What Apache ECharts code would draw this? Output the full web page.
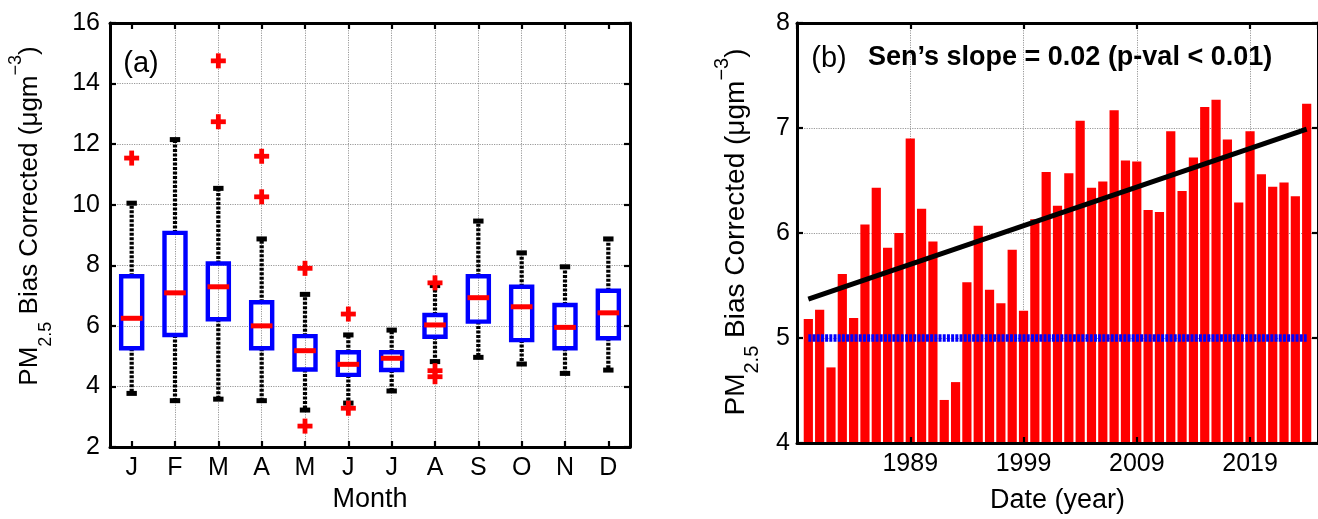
<!DOCTYPE html>
<html>
<head>
<meta charset="utf-8">
<script src="https://cdn.jsdelivr.net/npm/echarts@6/dist/echarts.min.js"></script>
<style>
  html, body { margin: 0; padding: 0; background: #fff; }
  #chart { width: 1318px; height: 519px; }
</style>
</head>
<body>
<div id="chart"></div>
<script>
// ---- (a) monthly distribution ----
const months = ['J', 'F', 'M', 'A', 'M', 'J', 'J', 'A', 'S', 'O', 'N', 'D'];
const whiskerLow  = [3.77, 3.53, 3.58, 3.53, 3.22, 3.45, 3.85, 4.82, 4.96, 4.74, 4.43, 4.54];
const quart1      = [5.26, 5.70, 6.22, 5.26, 4.56, 4.38, 4.54, 5.64, 6.14, 5.53, 5.26, 5.59];
const medians     = [6.25, 7.09, 7.29, 6.00, 5.18, 4.73, 4.93, 6.03, 6.93, 6.63, 5.95, 6.43];
const quart3      = [7.64, 9.07, 8.06, 6.78, 5.66, 5.13, 5.13, 6.36, 7.64, 7.29, 6.69, 7.16];
const whiskerHigh = [10.05, 12.15, 10.54, 8.87, 7.04, 5.70, 5.86, 7.33, 9.46, 8.41, 7.95, 8.87];
const outlierMonth = [0, 2, 2, 3, 3, 4, 4, 5, 5, 7, 7, 7];
const outlierValue = [11.54, 14.75, 12.74, 11.60, 10.26, 7.90, 2.69, 6.39, 3.28, 7.42, 4.52, 4.32];

// ---- (b) annual means ----
const years = [];
for (let y = 1980; y <= 2024; y++) years.push(y);
const annualMean = [
  5.18, 5.27, 4.72, 5.61, 5.19, 6.08, 6.43, 5.86, 6.00, 6.90,
  6.23, 5.92, 4.41, 4.58, 5.53, 6.07, 5.46, 5.33, 5.84, 5.26,
  6.13, 6.58, 6.26, 6.57, 7.07, 6.43, 6.49, 7.17, 6.69, 6.68,
  6.22, 6.20, 6.97, 6.40, 6.72, 7.20, 7.27, 6.89, 6.29, 6.97,
  6.56, 6.44, 6.48, 6.35, 7.23
];
const trendYears = [1980, 2024];
const trendValues = [5.37, 6.99];
const guideYears = [1980, 2024];
const guideValues = [5, 5];
const yearTicks = [1989, 1999, 2009, 2019];
const yearOrigin = 1979;   // left edge of the time axis

const FF = 'Liberation Sans, Arial, Helvetica, sans-serif';
const BLACK = '#000';
const GRID_LINE = { show: true, showMinLine: false, showMaxLine: false,
  lineStyle: { color: '#999999', width: 1, type: [1.2, 1.2] } };
const tickIn = { show: true, inside: true, length: 6, lineStyle: { color: BLACK, width: 2.2 } };
const axLine = { show: true, onZero: false, lineStyle: { color: BLACK, width: 3 } };
const tickFont = { fontSize: 25, fontFamily: FF, color: BLACK };

const boxData = months.map((m, i) => [i, whiskerLow[i], quart1[i], medians[i], quart3[i], whiskerHigh[i]]);
const outlierData = outlierMonth.map((m, i) => [m, outlierValue[i]]);
const barData = years.map((y, i) => [y - yearOrigin, annualMean[i]]);
const trendData = trendYears.map((y, i) => [y - yearOrigin, trendValues[i]]);
const guideData = guideYears.map((y, i) => [y - yearOrigin, guideValues[i]]);

const yTitle = '{m|PM}{s|2.5}{m| Bias Corrected (μgm}{p|−3}{m|)}';
function yTitleRich(size) {
  const small = Math.round(size * 0.7);
  return {
    m: { fontSize: size, fontFamily: FF, fill: BLACK, verticalAlign: 'middle' },
    s: { fontSize: small, fontFamily: FF, fill: BLACK, verticalAlign: 'middle', padding: [32, 0, 0, 0] },
    p: { fontSize: small, fontFamily: FF, fill: BLACK, verticalAlign: 'middle', padding: [0, 0, 27, 0] }
  };
}

const chart = echarts.init(document.getElementById('chart'), null, { renderer: 'canvas' });

chart.setOption({
  animation: false,
  backgroundColor: '#fff',
  grid: [
    { left: 110, top: 23, width: 520, height: 424 },
    { left: 797, top: 23, width: 529, height: 424 }
  ],
  xAxis: [
    { type: 'category', gridIndex: 0, position: 'bottom', data: months, boundaryGap: true,
      axisLine: axLine, axisTick: Object.assign({ alignWithLabel: true }, tickIn),
      axisLabel: Object.assign({ margin: 9, interval: 0 }, tickFont),
      splitLine: Object.assign({ alignWithLabel: true, interval: 0 }, GRID_LINE),
      name: 'Month', nameLocation: 'middle', nameGap: 33,
      nameTextStyle: { fontSize: 27, fontFamily: FF, color: BLACK } },
    { type: 'category', gridIndex: 0, position: 'top', data: months, boundaryGap: true,
      axisLine: axLine, axisTick: Object.assign({ alignWithLabel: true, interval: 0 }, tickIn),
      axisLabel: { show: false }, splitLine: { show: false } },
    { type: 'value', gridIndex: 1, position: 'bottom', min: 0, max: 46, interval: 10, z: 5,
      axisLine: axLine, axisTick: tickIn,
      axisLabel: Object.assign({ margin: 9, showMaxLabel: false, showMinLabel: false,
        formatter: v => (yearTicks.indexOf(v + yearOrigin) >= 0 ? String(v + yearOrigin) : '') }, tickFont),
      splitLine: { show: false },
      name: 'Date (year)', nameLocation: 'middle', nameGap: 44,
      nameTextStyle: { fontSize: 27, fontFamily: FF, color: BLACK } },
    { type: 'value', gridIndex: 1, position: 'top', min: 0, max: 46, interval: 10,
      axisLine: axLine, axisTick: tickIn, axisLabel: { show: false }, splitLine: GRID_LINE }
  ],
  yAxis: [
    { type: 'value', gridIndex: 0, position: 'left', min: 2, max: 16, interval: 2,
      axisLine: axLine, axisTick: tickIn,
      axisLabel: Object.assign({ margin: 10 }, tickFont), splitLine: GRID_LINE },
    { type: 'value', gridIndex: 0, position: 'right', min: 2, max: 16, interval: 2,
      axisLine: axLine, axisTick: tickIn, axisLabel: { show: false }, splitLine: { show: false } },
    { type: 'value', gridIndex: 1, position: 'left', min: 4, max: 8, interval: 1, z: 5,
      axisLine: axLine, axisTick: tickIn,
      axisLabel: Object.assign({ margin: 7 }, tickFont), splitLine: { show: false } },
    { type: 'value', gridIndex: 1, position: 'right', min: 4, max: 8, interval: 1,
      axisLine: axLine, axisTick: tickIn, axisLabel: { show: false }, splitLine: GRID_LINE }
  ],
  series: [
    {
      // box, whiskers and median for each month
      type: 'custom', xAxisIndex: 0, yAxisIndex: 0, z: 3,
      data: boxData,
      encode: { x: 0, y: [1, 2, 3, 4, 5] },
      renderItem: function (params, api) {
        const i = api.value(0);
        const pLo = api.coord([i, api.value(1)]);
        const pQ1 = api.coord([i, api.value(2)]);
        const pMd = api.coord([i, api.value(3)]);
        const pQ3 = api.coord([i, api.value(4)]);
        const pHi = api.coord([i, api.value(5)]);
        const band = api.size([1, 0])[0];
        const x = pMd[0];
        const bw = band * 0.485, mw = band * 0.5, cw = band * 0.24;
        const dash = { stroke: BLACK, lineWidth: 4.2, lineDash: [3, 1.5] };
        const cap = { stroke: BLACK, lineWidth: 5 };
        return {
          type: 'group',
          children: [
            { type: 'line', shape: { x1: x, y1: pQ1[1], x2: x, y2: pLo[1] }, style: dash },
            { type: 'line', shape: { x1: x, y1: pQ3[1], x2: x, y2: pHi[1] }, style: dash },
            { type: 'line', shape: { x1: x - cw / 2, y1: pLo[1], x2: x + cw / 2, y2: pLo[1] }, style: cap },
            { type: 'line', shape: { x1: x - cw / 2, y1: pHi[1], x2: x + cw / 2, y2: pHi[1] }, style: cap },
            { type: 'rect', shape: { x: x - bw / 2, y: pQ3[1], width: bw, height: pQ1[1] - pQ3[1] },
              style: { fill: 'none', stroke: '#0000ff', lineWidth: 4.4 } },
            { type: 'line', shape: { x1: x - mw / 2, y1: pMd[1], x2: x + mw / 2, y2: pMd[1] },
              style: { stroke: '#ff0000', lineWidth: 5 } }
          ]
        };
      }
    },
    {
      // outliers drawn as red plus marks
      type: 'custom', xAxisIndex: 0, yAxisIndex: 0, z: 4,
      data: outlierData,
      encode: { x: 0, y: 1 },
      renderItem: function (params, api) {
        const p = api.coord([api.value(0), api.value(1)]);
        const r = 7.5;
        const st = { stroke: '#ff0000', lineWidth: 4.8 };
        return {
          type: 'group',
          children: [
            { type: 'line', shape: { x1: p[0] - r, y1: p[1], x2: p[0] + r, y2: p[1] }, style: st },
            { type: 'line', shape: { x1: p[0], y1: p[1] - r, x2: p[0], y2: p[1] + r }, style: st }
          ]
        };
      }
    },
    {
      type: 'bar', xAxisIndex: 2, yAxisIndex: 2,
      data: barData, barWidth: 9.2,
      itemStyle: { color: '#ff0000' }
    },
    {
      type: 'line', xAxisIndex: 2, yAxisIndex: 2, z: 3,
      data: guideData, symbol: 'none',
      lineStyle: { color: '#0000ff', width: 7.5, type: [3, 1.2], cap: 'butt' }
    },
    {
      type: 'line', xAxisIndex: 2, yAxisIndex: 2, z: 4,
      data: trendData, symbol: 'none',
      lineStyle: { color: BLACK, width: 5 }
    }
  ],
  graphic: [
    { type: 'text', x: 141, y: 64, z: 10,
      style: { text: '(a)', fontSize: 29, fontFamily: FF, fill: BLACK, align: 'center', verticalAlign: 'middle' } },
    { type: 'text', x: 829, y: 59, z: 10,
      style: { text: '(b)', fontSize: 29, fontFamily: FF, fill: BLACK, align: 'center', verticalAlign: 'middle' } },
    { type: 'text', x: 868, y: 58, z: 10,
      style: { text: 'Sen’s slope = 0.02 (p-val < 0.01)', fontSize: 27, fontWeight: 'bold',
        fontFamily: FF, fill: BLACK, align: 'left', verticalAlign: 'middle' } },
    { type: 'text', x: 30, y: 216, rotation: Math.PI / 2, z: 10,
      style: { text: yTitle, rich: yTitleRich(26), align: 'center', verticalAlign: 'middle' } },
    { type: 'text', x: 736, y: 232, rotation: Math.PI / 2, z: 10,
      style: { text: yTitle, rich: yTitleRich(28), align: 'center', verticalAlign: 'middle' } }
  ]
});
</script>
</body>
</html>
